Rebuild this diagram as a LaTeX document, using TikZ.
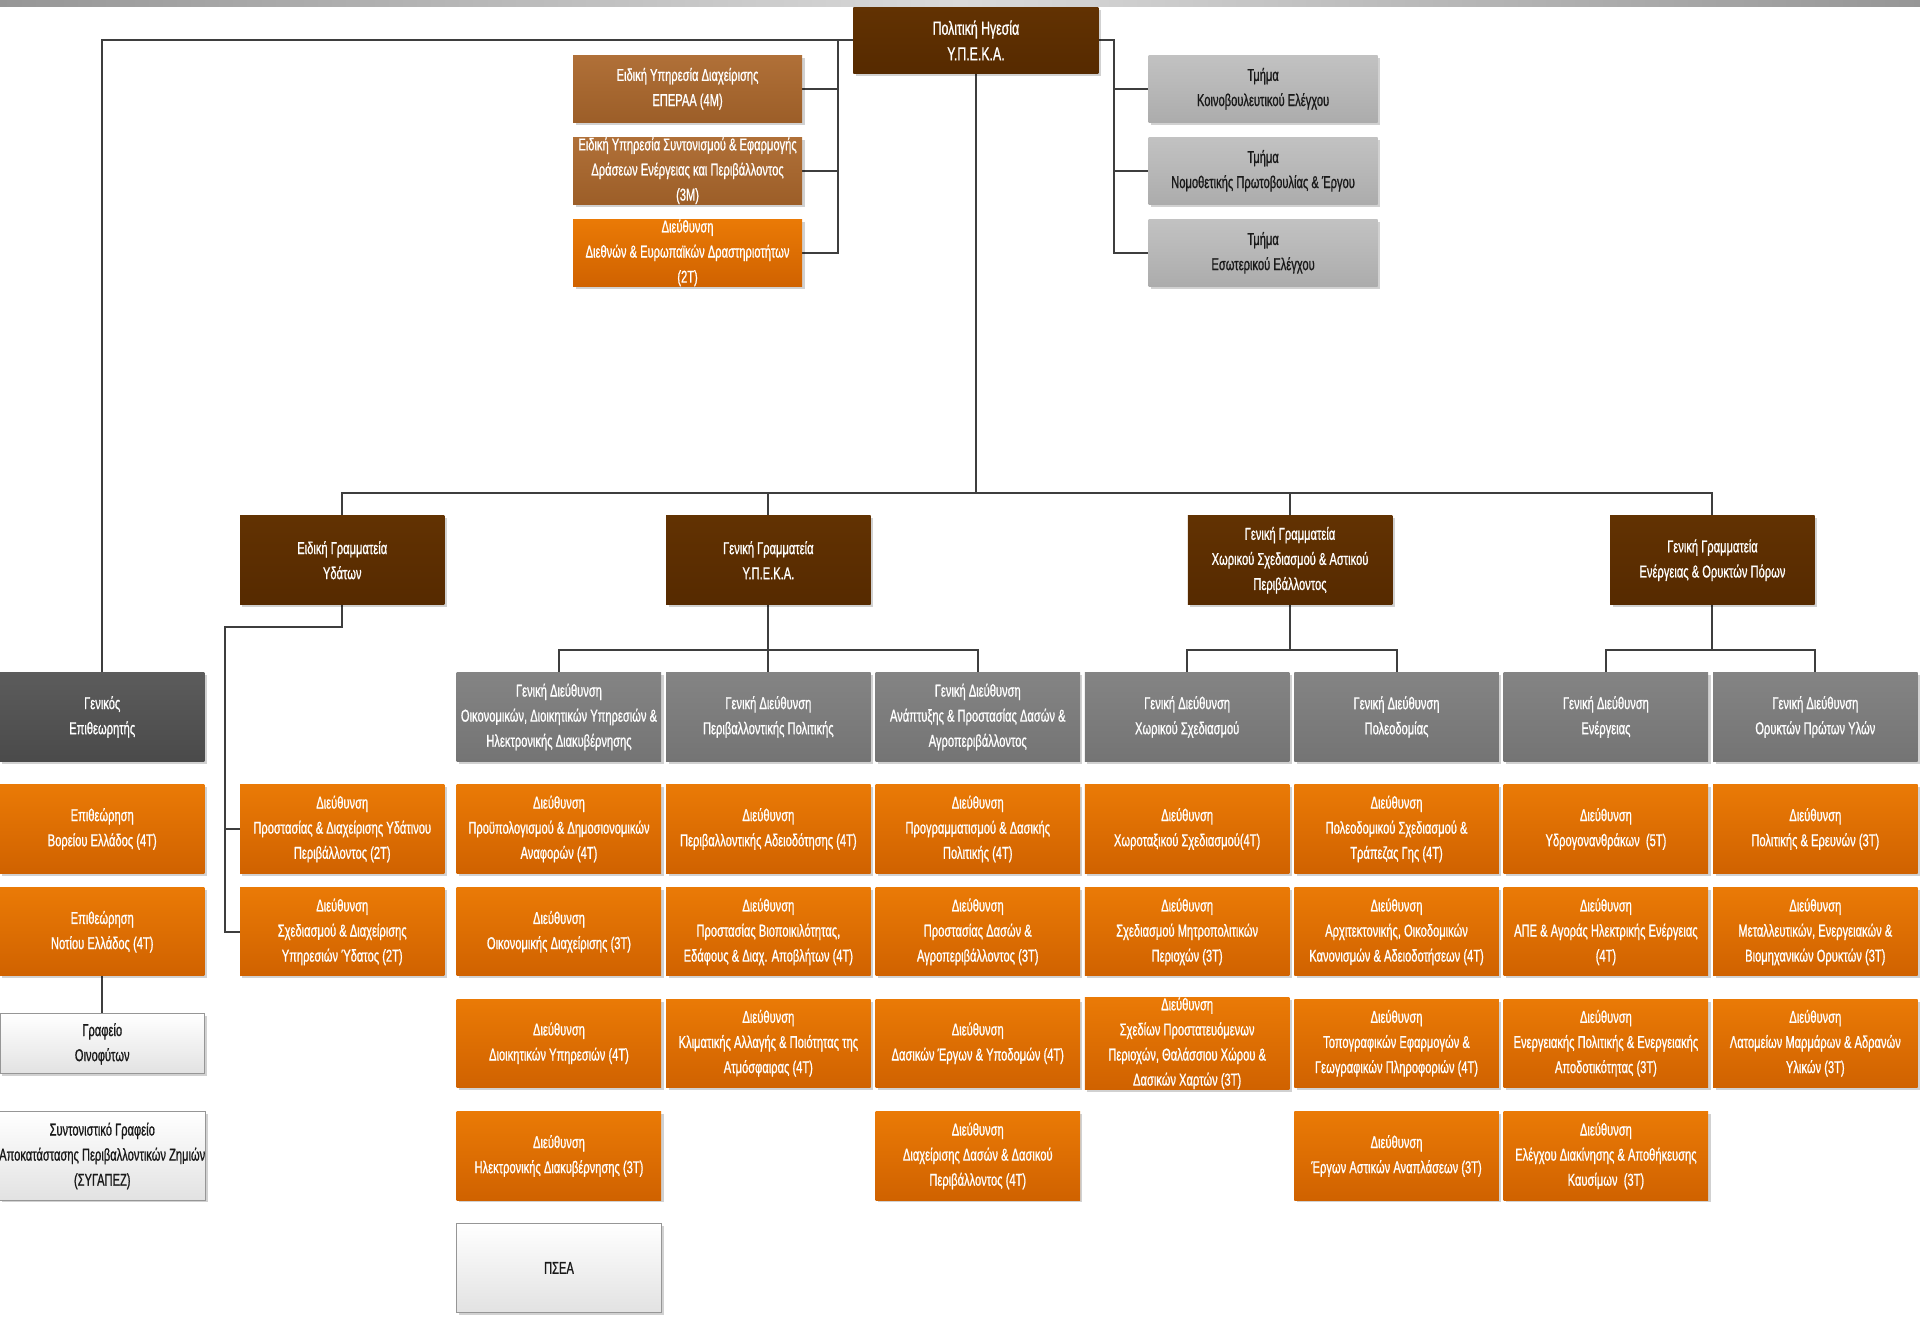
\documentclass[tikz,border=0pt]{standalone}
\usepackage{fontspec}
\setmainfont{Liberation Sans}[FakeStretch=0.65,FakeBold=0.9]
\usetikzlibrary{shadows,backgrounds}
\definecolor{dbrownT}{RGB}{98,50,2}
\definecolor{dbrownB}{RGB}{86,42,0}
\definecolor{lbrownT}{RGB}{176,112,56}
\definecolor{lbrownB}{RGB}{156,94,40}
\definecolor{orT}{RGB}{234,122,6}
\definecolor{orB}{RGB}{208,98,0}
\definecolor{gdT}{RGB}{132,132,132}
\definecolor{gdB}{RGB}{116,116,116}
\definecolor{dgT}{RGB}{92,92,92}
\definecolor{dgB}{RGB}{74,74,74}
\definecolor{lgT}{RGB}{194,194,194}
\definecolor{lgB}{RGB}{172,172,172}
\definecolor{wbB}{RGB}{226,226,226}
\definecolor{wbD}{RGB}{150,150,150}
\definecolor{lineC}{RGB}{62,62,62}
\definecolor{barE}{RGB}{150,150,150}
\definecolor{barM}{RGB}{218,218,218}
\newcommand\ob[7]{\node[#6, minimum width=#4pt, minimum height=#5pt] (#1) at ({#2+#4/2},{#3+#5/2}) {#7};}
\begin{document}
\begin{tikzpicture}[x=1pt,y=-1pt,
  box/.style={inner sep=0pt, align=center, text=white,
    font=\fontsize{14}{20.5}\selectfont,
    drop shadow={shadow xshift=2pt,shadow yshift=-2pt,fill=black,opacity=0.18}},
  dbrown/.style={box, top color=dbrownT, bottom color=dbrownB},
  lbrown/.style={box, top color=lbrownT, bottom color=lbrownB},
  orng/.style={box, top color=orT, bottom color=orB},
  gdir/.style={box, top color=gdT, bottom color=gdB},
  dgray/.style={box, top color=dgT, bottom color=dgB},
  lgray/.style={box, top color=lgT, bottom color=lgB, text=black!90},
  wbox/.style={box, top color=white, bottom color=wbB, draw=wbD, line width=0.8pt, text=black!90},
  conn/.style={draw=lineC, line width=1.6pt}
]
\useasboundingbox (0,0) rectangle (1568,1075.5);
\shade[left color=barE, right color=barE, middle color=barM] (0,0) rectangle (1568,5);

% top
\ob{top}{697}{6}{200}{54}{dbrown, font=\fontsize{15.5}{21}\selectfont}{Πολιτική Ηγεσία\\Υ.Π.Ε.Κ.Α.}
\ob{e1}{468}{45}{187}{55}{lbrown}{Ειδική Υπηρεσία Διαχείρισης\\ΕΠΕΡΑΑ (4Μ)}
\ob{e2}{468}{112}{187}{55}{lbrown}{Ειδική Υπηρεσία Συντονισμού \& Εφαρμογής\\Δράσεων Ενέργειας και Περιβάλλοντος\\(3Μ)}
\ob{e3}{468}{179}{187}{55}{orng}{Διεύθυνση\\Διεθνών \& Ευρωπαϊκών Δραστηριοτήτων\\(2Τ)}
\ob{t1}{938}{45}{187}{55}{lgray}{Τμήμα\\Κοινοβουλευτικού Ελέγχου}
\ob{t2}{938}{112}{187}{55}{lgray}{Τμήμα\\Νομοθετικής Πρωτοβουλίας \& Έργου}
\ob{t3}{938}{179}{187}{55}{lgray}{Τμήμα\\Εσωτερικού Ελέγχου}

% secretariats
\ob{s1}{196}{421}{167}{73}{dbrown}{Ειδική Γραμματεία\\Υδάτων}
\ob{s2}{544}{421}{167}{73}{dbrown}{Γενική Γραμματεία\\Υ.Π.Ε.Κ.Α.}
\ob{s3}{970}{421}{167}{73}{dbrown}{Γενική Γραμματεία\\Χωρικού Σχεδιασμού \& Αστικού\\Περιβάλλοντος}
\ob{s4}{1315}{421}{167}{73}{dbrown}{Γενική Γραμματεία\\Ενέργειας \& Ορυκτών Πόρων}

% general directorates
\ob{ins}{0}{549}{167}{73}{dgray}{Γενικός\\Επιθεωρητής}
\ob{g1}{373}{549}{167}{73}{gdir}{Γενική Διεύθυνση\\Οικονομικών, Διοικητικών Υπηρεσιών \&\\Ηλεκτρονικής Διακυβέρνησης}
\ob{g2}{544}{549}{167}{73}{gdir}{Γενική Διεύθυνση\\Περιβαλλοντικής Πολιτικής}
\ob{g3}{715}{549}{167}{73}{gdir}{Γενική Διεύθυνση\\Ανάπτυξης \& Προστασίας Δασών \&\\Αγροπεριβάλλοντος}
\ob{g4}{886}{549}{167}{73}{gdir}{Γενική Διεύθυνση\\Χωρικού Σχεδιασμού}
\ob{g5}{1057}{549}{167}{73}{gdir}{Γενική Διεύθυνση\\Πολεοδομίας}
\ob{g6}{1228}{549}{167}{73}{gdir}{Γενική Διεύθυνση\\Ενέργειας}
\ob{g7}{1399}{549}{167}{73}{gdir}{Γενική Διεύθυνση\\Ορυκτών Πρώτων Υλών}

% column A
\ob{a1}{0}{641}{167}{72}{orng}{Επιθεώρηση\\Βορείου Ελλάδος (4Τ)}
\ob{a2}{0}{725}{167}{72}{orng}{Επιθεώρηση\\Νοτίου Ελλάδος (4Τ)}
\ob{a3}{0}{828}{167}{49}{wbox}{Γραφείο\\Οινοφύτων}
\ob{a4}{0}{908}{167}{72}{wbox}{Συντονιστικό Γραφείο\\Αποκατάστασης Περιβαλλοντικών Ζημιών\\(ΣΥΓΑΠΕΖ)}
% column B
\ob{b1}{196}{641}{167}{72}{orng}{Διεύθυνση\\Προστασίας \& Διαχείρισης Υδάτινου\\Περιβάλλοντος (2Τ)}
\ob{b2}{196}{725}{167}{72}{orng}{Διεύθυνση\\Σχεδιασμού \& Διαχείρισης\\Υπηρεσιών Ύδατος (2Τ)}
% column 1
\ob{c11}{373}{641}{167}{72}{orng}{Διεύθυνση\\Προϋπολογισμού \& Δημοσιονομικών\\Αναφορών (4Τ)}
\ob{c12}{373}{725}{167}{72}{orng}{Διεύθυνση\\Οικονομικής Διαχείρισης (3Τ)}
\ob{c13}{373}{816}{167}{72}{orng}{Διεύθυνση\\Διοικητικών Υπηρεσιών (4Τ)}
\ob{c14}{373}{908}{167}{72}{orng}{Διεύθυνση\\Ηλεκτρονικής Διακυβέρνησης (3Τ)}
\ob{c15}{373}{999}{167}{73}{wbox}{ΠΣΕΑ}
% column 2
\ob{c21}{544}{641}{167}{72}{orng}{Διεύθυνση\\Περιβαλλοντικής Αδειοδότησης (4Τ)}
\ob{c22}{544}{725}{167}{72}{orng}{Διεύθυνση\\Προστασίας Βιοποικιλότητας,\\Εδάφους \& Διαχ. Αποβλήτων (4Τ)}
\ob{c23}{544}{816}{167}{72}{orng}{Διεύθυνση\\Κλιματικής Αλλαγής \& Ποιότητας της\\Ατμόσφαιρας (4Τ)}
% column 3
\ob{c31}{715}{641}{167}{72}{orng}{Διεύθυνση\\Προγραμματισμού \& Δασικής\\Πολιτικής (4Τ)}
\ob{c32}{715}{725}{167}{72}{orng}{Διεύθυνση\\Προστασίας Δασών \&\\Αγροπεριβάλλοντος (3Τ)}
\ob{c33}{715}{816}{167}{72}{orng}{Διεύθυνση\\Δασικών Έργων \& Υποδομών (4Τ)}
\ob{c34}{715}{908}{167}{72}{orng}{Διεύθυνση\\Διαχείρισης Δασών \& Δασικού\\Περιβάλλοντος (4Τ)}
% column 4
\ob{c41}{886}{641}{167}{72}{orng}{Διεύθυνση\\Χωροταξικού Σχεδιασμού(4Τ)}
\ob{c42}{886}{725}{167}{72}{orng}{Διεύθυνση\\Σχεδιασμού Μητροπολιτικών\\Περιοχών (3Τ)}
\ob{c43}{886}{816}{167}{72}{orng}{Διεύθυνση\\Σχεδίων Προστατευόμενων\\Περιοχών, Θαλάσσιου Χώρου \&\\Δασικών Χαρτών (3Τ)}
% column 5
\ob{c51}{1057}{641}{167}{72}{orng}{Διεύθυνση\\Πολεοδομικού Σχεδιασμού \&\\Τράπεζας Γης (4Τ)}
\ob{c52}{1057}{725}{167}{72}{orng}{Διεύθυνση\\Αρχιτεκτονικής, Οικοδομικών\\Κανονισμών \& Αδειοδοτήσεων (4Τ)}
\ob{c53}{1057}{816}{167}{72}{orng}{Διεύθυνση\\Τοπογραφικών Εφαρμογών \&\\Γεωγραφικών Πληροφοριών (4Τ)}
\ob{c54}{1057}{908}{167}{72}{orng}{Διεύθυνση\\Έργων Αστικών Αναπλάσεων (3Τ)}
% column 6
\ob{c61}{1228}{641}{167}{72}{orng}{Διεύθυνση\\Υδρογονανθράκων\ \ (5Τ)}
\ob{c62}{1228}{725}{167}{72}{orng}{Διεύθυνση\\ΑΠΕ \& Αγοράς Ηλεκτρικής Ενέργειας\\(4Τ)}
\ob{c63}{1228}{816}{167}{72}{orng}{Διεύθυνση\\Ενεργειακής Πολιτικής \& Ενεργειακής\\Αποδοτικότητας (3Τ)}
\ob{c64}{1228}{908}{167}{72}{orng}{Διεύθυνση\\Ελέγχου Διακίνησης \& Αποθήκευσης\\Καυσίμων\ \ (3Τ)}
% column 7
\ob{c71}{1399}{641}{167}{72}{orng}{Διεύθυνση\\Πολιτικής \& Ερευνών (3Τ)}
\ob{c72}{1399}{725}{167}{72}{orng}{Διεύθυνση\\Μεταλλευτικών, Ενεργειακών \&\\Βιομηχανικών Ορυκτών (3Τ)}
\ob{c73}{1399}{816}{167}{72}{orng}{Διεύθυνση\\Λατομείων Μαρμάρων \& Αδρανών\\Υλικών (3Τ)}

% connectors
\coordinate (lb) at (684,0);
\coordinate (rb) at (910,0);
\coordinate (hb) at (0,403);
\coordinate (wb) at (184,512);
\coordinate (l2) at (0,531);
\begin{scope}[on background layer]
\draw[conn] (top.west) -| (ins.north);
\draw[conn] (top.west -| lb) -- (lb |- e3.east) -- (e3.east);
\draw[conn] (e1.east) -- (lb |- e1.east);
\draw[conn] (e2.east) -- (lb |- e2.east);
\draw[conn] (top.east) -| (rb |- t3.west) -- (t3.west);
\draw[conn] (t1.west) -- (rb |- t1.west);
\draw[conn] (t2.west) -- (rb |- t2.west);
\draw[conn] (top.south) -- (top.south |- hb);
\draw[conn] (s1.north) -- (s1.north |- hb) -- (s4.north |- hb) -- (s4.north);
\draw[conn] (s2.north) -- (s2.north |- hb);
\draw[conn] (s3.north) -- (s3.north |- hb);
\draw[conn] (s1.south) |- (wb) -- (wb |- b2.west) -- (b2.west);
\draw[conn] (b1.west) -- (wb |- b1.west);
\draw[conn] (s2.south) -- (g2.north);
\draw[conn] (g1.north) -- (g1.north |- l2) -- (g3.north |- l2) -- (g3.north);
\draw[conn] (s3.south) -- (s3.south |- l2);
\draw[conn] (g4.north) -- (g4.north |- l2) -- (g5.north |- l2) -- (g5.north);
\draw[conn] (s4.south) -- (s4.south |- l2);
\draw[conn] (g6.north) -- (g6.north |- l2) -- (g7.north |- l2) -- (g7.north);
\draw[conn] (a2.south) -- (a3.north);
\end{scope}
\end{tikzpicture}
\end{document}
